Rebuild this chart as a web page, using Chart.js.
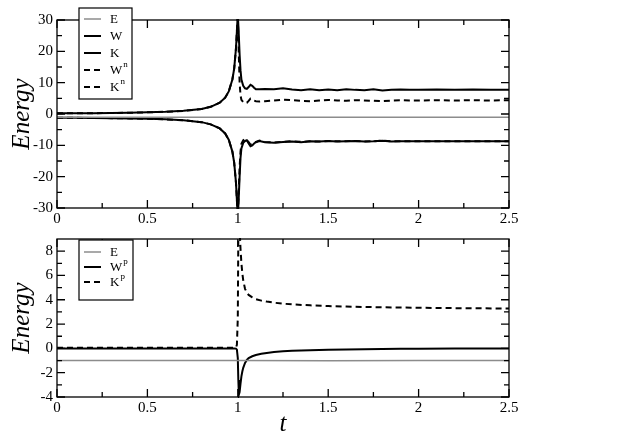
<!DOCTYPE html>
<html>
<head>
<meta charset="utf-8">
<script src="https://cdn.jsdelivr.net/npm/chart.js@4.4.1/dist/chart.umd.min.js"></script>
<style>
  html, body { margin: 0; padding: 0; background: #fff; }
  #wrap { position: relative; width: 624px; height: 434px; }
  canvas { position: absolute; left: 0; }
  #topChart { top: 0; }
  #botChart { top: 226px; }
</style>
</head>
<body>
<div id="wrap">
  <canvas id="topChart" width="624" height="226"></canvas>
  <canvas id="botChart" width="624" height="208"></canvas>
</div>
<script>
// ---- top panel data ----
const tTop = [0, 0.1, 0.2, 0.3, 0.4, 0.5, 0.6, 0.7, 0.8, 0.85, 0.9, 0.93, 0.95, 0.97, 0.98, 0.99, 1.0,
  1.005, 1.01, 1.015, 1.02, 1.03, 1.04, 1.05, 1.06, 1.07, 1.08, 1.09, 1.1, 1.12, 1.15,
  1.2, 1.25, 1.3, 1.35, 1.4, 1.45, 1.5, 1.55, 1.6, 1.65, 1.7, 1.75, 1.8, 1.85, 1.9, 1.95, 2.0,
  2.1, 2.2, 2.3, 2.4, 2.5];
const kTop = [0.2, 0.22, 0.26, 0.32, 0.4, 0.55, 0.7, 1.0, 1.6, 2.3, 3.6, 5.2, 7.2, 11, 14.5, 21, 32,
  26, 19, 14, 11, 9, 8.2, 8.0, 8.6, 9.3, 9.0, 8.4, 7.9, 7.9, 8.0,
  7.9, 8.2, 7.8, 7.6, 7.9, 7.6, 7.8, 7.6, 7.9, 7.7, 7.6, 7.9, 7.5, 7.7, 7.8, 7.7, 7.7,
  7.8, 7.7, 7.8, 7.7, 7.7];
const knTop = [0.2, 0.22, 0.26, 0.32, 0.4, 0.55, 0.7, 1.0, 1.6, 2.3, 3.6, 5.2, 7.2, 11, 14.5, 21, 32,
  20, 10, 6, 4.5, 3.8, 3.5, 3.6, 4.2, 4.9, 4.8, 4.3, 4.1, 4.0, 4.1,
  4.3, 4.6, 4.4, 4.2, 4.1, 4.3, 4.5, 4.3, 4.2, 4.4, 4.3, 4.2, 4.1, 4.3, 4.4, 4.3, 4.3,
  4.4, 4.3, 4.4, 4.3, 4.4];
const wTop = [-1.2, -1.22, -1.26, -1.32, -1.4, -1.55, -1.7, -2.0, -2.6, -3.3, -4.6, -6.2, -8.2, -12, -15.5, -22, -33,
  -27, -20, -14, -11, -9.2, -8.6, -8.4, -9.4, -10.3, -10.0, -9.4, -9.0, -8.6, -9.0,
  -9.2, -8.9, -8.8, -9.0, -8.7, -8.8, -8.6, -8.8, -8.7, -8.6, -8.8, -8.7, -8.5, -8.8, -8.7, -8.7, -8.7,
  -8.7, -8.7, -8.7, -8.7, -8.7];
const wnTop = [-1.2, -1.22, -1.26, -1.32, -1.4, -1.55, -1.7, -2.0, -2.6, -3.3, -4.6, -6.2, -8.2, -12, -15.5, -22, -33,
  -25, -17, -12, -9.5, -8.4, -8.1, -8.3, -9.0, -9.8, -9.6, -9.1, -8.9, -8.5, -8.9,
  -9.1, -8.9, -8.7, -8.9, -8.7, -8.8, -8.6, -8.7, -8.7, -8.6, -8.8, -8.7, -8.5, -8.7, -8.7, -8.7, -8.7,
  -8.7, -8.7, -8.7, -8.7, -8.7];
const tE = [0, 0.5, 1.0, 1.5, 2.0, 2.5];
const eTop = [-1, -1, -1, -1, -1, -1];

// ---- bottom panel data ----
const tBot = [0, 0.5, 0.9, 0.98, 0.99, 0.995, 1.0, 1.003, 1.006, 1.01, 1.015, 1.02, 1.025, 1.03, 1.04, 1.05,
  1.06, 1.08, 1.1, 1.13, 1.16, 1.2, 1.25, 1.3, 1.4, 1.5, 1.6, 1.7, 1.8, 1.9, 2.0, 2.2, 2.5];
const kpBot = [0.05, 0.05, 0.05, 0.05, 0.08, 0.3, 2.5, 9.5, 10.5, 9.8, 8.2, 7.0, 6.2, 5.6, 4.9, 4.6,
  4.4, 4.2, 4.05, 3.93, 3.85, 3.76, 3.68, 3.62, 3.54, 3.48, 3.44, 3.41, 3.38, 3.36, 3.34, 3.31, 3.28];
const wpBot = [0, 0, 0, 0, -0.02, -0.1, -0.8, -2.6, -3.8, -3.6, -2.9, -2.3, -1.9, -1.6, -1.2, -0.95,
  -0.8, -0.65, -0.55, -0.45, -0.38, -0.3, -0.24, -0.2, -0.15, -0.11, -0.09, -0.07, -0.05, -0.04, -0.03, -0.01, 0];
const eBot = [-1, -1, -1, -1.02, -1, -1];

// ---- axes / labels ----
const xTicks = [0, 0.5, 1, 1.5, 2, 2.5];
const yTicksTop = [-30, -20, -10, 0, 10, 20, 30];
const yTicksBot = [-4, -2, 0, 2, 4, 6, 8];
const namesTop = ['E', 'W', 'K', 'W', 'K'];
const supsTop = ['', '', '', 'n', 'n'];
const namesBot = ['E', 'W', 'K'];
const supsBot = ['', 'p', 'p'];

const GREY = '#8c8c8c';
const SERIF = '"Liberation Serif", "DejaVu Serif", serif';
const pts = (xs, ys) => xs.map((x, i) => ({x: x, y: ys[i]}));
const line = (data, color, width, dash) => ({
  data: data, borderColor: color, borderWidth: width, borderDash: dash,
  showLine: true, pointRadius: 0, tension: 0, fill: false, clip: 1
});

// frame, inward ticks and the boxed legend (xmgrace style)
const frameTicks = {
  id: 'frameTicks',
  afterDatasetsDraw(chart, args, o) {
    const {ctx, chartArea: a, scales: {x, y}} = chart;
    ctx.save();
    ctx.strokeStyle = '#000';
    ctx.lineWidth = 1.3;
    ctx.setLineDash([]);
    ctx.strokeRect(a.left, a.top, a.right - a.left, a.bottom - a.top);
    ctx.beginPath();
    const xt = (v, len) => {
      const p = x.getPixelForValue(v);
      ctx.moveTo(p, a.bottom); ctx.lineTo(p, a.bottom - len);
      ctx.moveTo(p, a.top); ctx.lineTo(p, a.top + len);
    };
    const yt = (v, len) => {
      const p = y.getPixelForValue(v);
      ctx.moveTo(a.left, p); ctx.lineTo(a.left + len, p);
      ctx.moveTo(a.right, p); ctx.lineTo(a.right - len, p);
    };
    xTicks.forEach(v => xt(v, 8));
    for (let i = 0; i < xTicks.length - 1; i++) xt((xTicks[i] + xTicks[i + 1]) / 2, 5);
    o.yTicks.forEach(v => yt(v, 8));
    for (let i = 0; i < o.yTicks.length - 1; i++) yt((o.yTicks[i] + o.yTicks[i + 1]) / 2, 5);
    ctx.stroke();

    // legend
    const L = o.legend;
    ctx.fillStyle = '#fff';
    ctx.fillRect(L.x, L.y, L.w, L.h);
    ctx.lineWidth = 1.2;
    ctx.strokeRect(L.x, L.y, L.w, L.h);
    chart.data.datasets.forEach((ds, i) => {
      const yy = L.y + L.first + i * L.step;
      ctx.strokeStyle = ds.borderColor;
      ctx.lineWidth = ds.borderWidth;
      ctx.setLineDash(ds.borderDash || []);
      ctx.beginPath();
      ctx.moveTo(L.x + 5, yy); ctx.lineTo(L.x + 22, yy);
      ctx.stroke();
      ctx.setLineDash([]);
      ctx.fillStyle = '#000';
      ctx.textBaseline = 'middle';
      ctx.font = '13px ' + SERIF;
      ctx.fillText(L.names[i], L.x + 31, yy + 1);
      if (L.sups[i]) {
        const w = ctx.measureText(L.names[i]).width;
        ctx.font = '9px ' + SERIF;
        ctx.fillText(L.sups[i], L.x + 31 + w + 1, yy - 5);
      }
    });
    ctx.restore();
  }
};

function makeOptions(yMin, yMax, yTicks, xAxisHeight, padTop, xTitle, legend) {
  const tickFont = {family: SERIF, size: 15};
  const titleFont = {family: SERIF, size: 25, style: 'italic', lineHeight: 1};
  return {
    responsive: false,
    animation: false,
    devicePixelRatio: 1,
    layout: {padding: {left: 0, right: 115, top: padTop, bottom: 0}},
    plugins: {
      legend: {display: false},
      tooltip: {enabled: false},
      frameTicks: {yTicks: yTicks, legend: legend}
    },
    scales: {
      x: {
        type: 'linear', min: 0, max: 2.5,
        grid: {display: false, drawTicks: false},
        border: {display: false},
        afterBuildTicks: s => { s.ticks = xTicks.map(v => ({value: v})); },
        afterFit: s => { s.height = xAxisHeight; },
        ticks: {color: '#000', font: tickFont, padding: 2, maxRotation: 0, callback: v => String(v)},
        title: {display: xTitle, text: 't', color: '#000', font: titleFont, padding: {top: 0, bottom: -3}}
      },
      y: {
        type: 'linear', min: yMin, max: yMax,
        grid: {display: false, drawTicks: false},
        border: {display: false},
        afterBuildTicks: s => { s.ticks = yTicks.map(v => ({value: v})); },
        afterFit: s => { s.width = 57; },
        ticks: {color: '#000', font: tickFont, padding: 4, callback: v => String(v)},
        title: {display: true, text: 'Energy', color: '#000', font: titleFont, padding: {top: 10, bottom: 0}}
      }
    }
  };
}

new Chart(document.getElementById('topChart'), {
  type: 'scatter',
  data: {
    datasets: [
      line(pts(tE, eTop), GREY, 1.5, []),
      line(pts(tTop, wTop), '#000', 2, []),
      line(pts(tTop, kTop), '#000', 2, []),
      line(pts(tTop, wnTop), '#000', 2, [6, 4]),
      line(pts(tTop, knTop), '#000', 2, [6, 4])
    ]
  },
  options: makeOptions(-30, 30, yTicksTop, 18, 20, false,
    {x: 79, y: 8, w: 53, h: 91, first: 11, step: 17, names: namesTop, sups: supsTop}),
  plugins: [frameTicks]
});

new Chart(document.getElementById('botChart'), {
  type: 'scatter',
  data: {
    datasets: [
      line(pts(tE, eBot), GREY, 1.5, []),
      line(pts(tBot, wpBot), '#000', 2, []),
      line(pts(tBot, kpBot), '#000', 2, [6, 4])
    ]
  },
  options: makeOptions(-4, 9, yTicksBot, 37, 8, true,
    {x: 79, y: 14, w: 54, h: 60, first: 12, step: 15, names: namesBot, sups: supsBot}),
  plugins: [frameTicks]
});
</script>
</body>
</html>
